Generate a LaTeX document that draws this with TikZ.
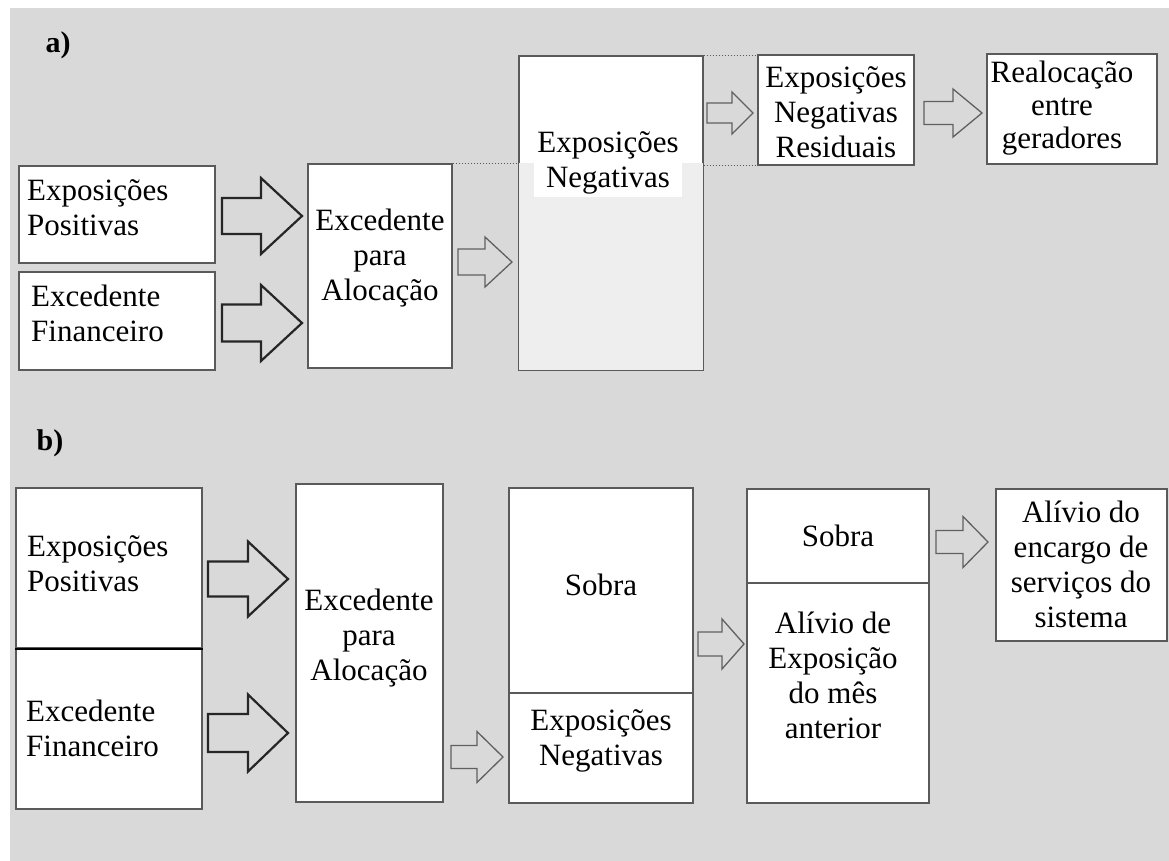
\documentclass[tikz,border=0pt]{standalone}
\usepackage{fontspec}
\setmainfont{Liberation Serif}
\usetikzlibrary{fit}
\definecolor{panelbg}{HTML}{D9D9D9}
\definecolor{boxline}{HTML}{5A5A5A}
\definecolor{negfill}{HTML}{EEEEEE}
\definecolor{thinarrow}{HTML}{606060}
% block arrow: [style]{x tail}{x head base}{x tip}{y centre}{shaft half height}{head half height}
\newcommand{\blockarrow}[7][]{%
  \draw[#1] (#2,#5-#6) -- (#3,#5-#6) -- (#3,#5-#7) -- (#4,#5)
            -- (#3,#5+#7) -- (#3,#5+#6) -- (#2,#5+#6) -- cycle;}
\begin{document}
\begin{tikzpicture}[x=1pt,y=-1pt,
  box/.style={draw=boxline,line width=1.4pt,fill=white,inner sep=0pt},
  txt/.style={font=\fontsize{31}{35}\selectfont,inner sep=0pt},
  panellabel/.style={font=\fontsize{30}{34}\selectfont\bfseries,inner sep=0pt},
  thick arrow/.style={draw=black!85,line width=2.2pt,line join=miter},
  thin arrow/.style={draw=thinarrow,line width=1.3pt,line join=miter},
  guide/.style={draw=boxline,line width=1pt,dash pattern=on 1.5pt off 1.5pt}]
\useasboundingbox (0,0) rectangle (1169,861);
\fill[white] (0,0) rectangle (1169,861);
\fill[panelbg] (10,8) rectangle (1169,861);

% ---------- panel a ----------
\node[panellabel] (la) at (58,45) {a)};
\node[box,fit={(19,166) (215,263)}] (EPa) {};
\node[box,fit={(19,272) (215,370)}] (EFa) {};
\node[box,fit={(308,164) (452,368)}] (EAa) {};
\node[box,fit={(519,56) (703,370)}] (NEa) {};
\fill[negfill] (NEa.west |- 0,163) rectangle (NEa.south east);
\draw[draw=boxline,line width=1.4pt] (NEa.north west) rectangle (NEa.south east);
\node[box,fit={(758,55) (914,165)}] (NRa) {};
\node[box,fit={(987,54) (1157,164)}] (RGa) {};

\draw[guide] (EAa.north east) -- (EAa.north east -| NEa.west);
\draw[guide] (NEa.north east) -- (NEa.north east -| NRa.west);
\draw[guide] (NEa.east |- NRa.south) -- (NRa.south west);

\node[txt,anchor=west,align=left] at (27,208) {Exposições\\Positivas};
\node[txt,anchor=west,align=left] at (31,313) {Excedente\\Financeiro};
\node[txt,align=center] at (380,258) {Excedente\\para\\Alocação};
\node[txt,align=center,fill=white,inner xsep=3pt,inner ysep=3pt] at (608,163) {Exposições\\Negativas};
\node[txt,align=center] at (836,112) {Exposições\\Negativas\\Residuais};
\node[txt,align=center,font=\fontsize{31}{33}\selectfont] at (1062,108) {Realocação\\entre\\geradores};

\blockarrow[thick arrow]{222}{261}{302}{216}{18}{38}
\blockarrow[thick arrow]{222}{261}{302}{323}{18.5}{38}
\blockarrow[thin arrow]{458}{485}{512}{262}{13}{25}
\blockarrow[thin arrow]{707}{732}{753}{113}{10}{21}
\blockarrow[thin arrow]{924}{953}{982}{113}{11.5}{24}

% ---------- panel b ----------
\node[panellabel] (lb) at (50,443) {b)};
\node[box,fit={(16,488) (202,648)}] (EPb) {};
\node[box,fit={(16,648) (202,809)}] (EFb) {};
\draw[black,line width=2.2pt] (EPb.south west) -- (EPb.south east);
\node[box,fit={(296,484) (443,802)}] (EAb) {};
\node[box,fit={(509,488) (693,693)}] (SOb) {};
\node[box,fit={(509,693) (693,803)}] (NEb) {};
\node[box,fit={(747,489) (929,583)}] (S2b) {};
\node[box,fit={(747,583) (929,803)}] (AXb) {};
\node[box,fit={(996,489) (1167,641)}] (AEb) {};

\node[txt,anchor=west,align=left] at (27,564) {Exposições\\Positivas};
\node[txt,anchor=west,align=left] at (26,728) {Excedente\\Financeiro};
\node[txt,align=center] at (369,638) {Excedente\\para\\Alocação};
\node[txt] at (601,585) {Sobra};
\node[txt,align=center] at (601,741) {Exposições\\Negativas};
\node[txt] at (838,536) {Sobra};
\node[txt,align=center] at (833,675) {Alívio de\\Exposição\\do mês\\anterior};
\node[txt,align=center] at (1081,564) {Alívio do\\encargo de\\serviços do\\sistema};

\blockarrow[thick arrow]{208}{248}{288}{579}{17.5}{37.5}
\blockarrow[thick arrow]{208}{248}{288}{733}{19}{38.5}
\blockarrow[thin arrow]{451}{477}{503}{757}{11.5}{25.5}
\blockarrow[thin arrow]{698}{722}{744}{644}{12}{25}
\blockarrow[thin arrow]{936}{963}{988}{542}{11.5}{25.5}
\end{tikzpicture}
\end{document}
